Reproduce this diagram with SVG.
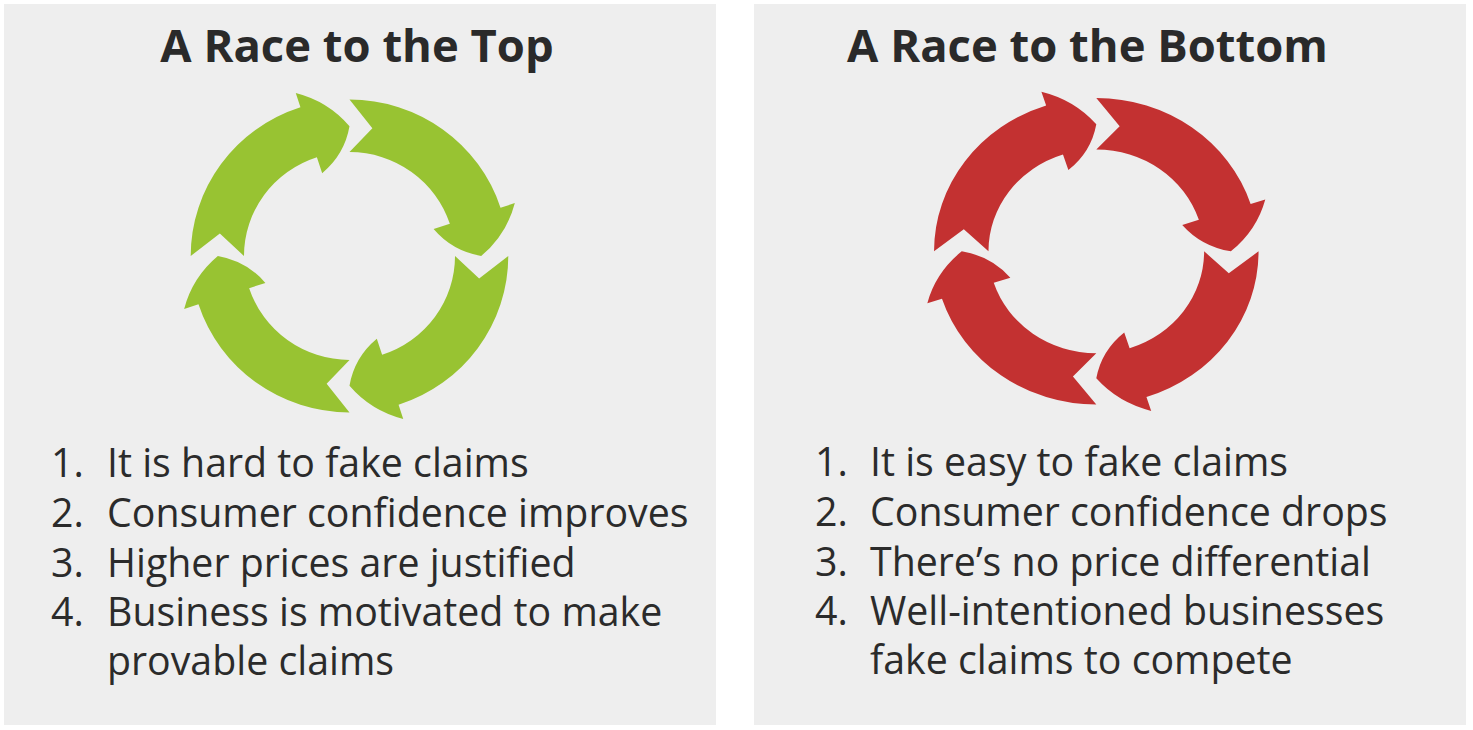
<svg xmlns="http://www.w3.org/2000/svg" xmlns:xlink="http://www.w3.org/1999/xlink" width="1473" height="730" viewBox="0 0 1473 730">
<style>
.panel{fill:#eeeeee}
.title{font-family:"Open Sans","Noto Sans","Liberation Sans",sans-serif;font-weight:700;font-size:45.4px;fill:#2a2a2a;text-anchor:middle}
.item{font-family:"Open Sans","Noto Sans","Liberation Sans",sans-serif;font-size:39.3px;fill:#2b2b2b}
.green{fill:#98c332}
.red{fill:#c33131}
</style>
<defs>
<path id="arc-arrow" d="M -158 0 A 158 158 0 0 1 -48.83 -150.27 L -53.46 -164.53 Q -21.42 -156.24 0 -131 Q -4.93 -102.37 -27.19 -83.69 L -32.45 -99.86 A 105 105 0 0 0 -105 0 L -129.01 -22.75 Z"/>
</defs>
<rect class="panel" x="4" y="4" width="712" height="721"/>
<rect class="panel" x="754" y="4" width="712" height="721"/>

<g id="top-panel">
<text class="title" x="357" y="62">A Race to the Top</text>
<g id="top-cycle" class="green" transform="translate(349.5 256) scale(1.005 0.99)">
<use xlink:href="#arc-arrow"/>
<use xlink:href="#arc-arrow" transform="rotate(90)"/>
<use xlink:href="#arc-arrow" transform="rotate(180)"/>
<use xlink:href="#arc-arrow" transform="rotate(270)"/>
</g>
<g id="top-list" class="item">
<text x="51" y="477">1.</text><text x="107" y="477">It is hard to fake claims</text>
<text x="51" y="527">2.</text><text x="107" y="527">Consumer confidence improves</text>
<text x="51" y="577">3.</text><text x="107" y="577">Higher prices are justified</text>
<text x="51" y="626">4.</text><text x="107" y="626">Business is motivated to make</text>
<text x="107" y="675">provable claims</text>
</g>
</g>

<g id="bottom-panel">
<text class="title" x="1087.5" y="62">A Race to the Bottom</text>
<g id="bottom-cycle" class="red" transform="translate(1096.3 251.3) scale(1.027 0.97)">
<use xlink:href="#arc-arrow"/>
<use xlink:href="#arc-arrow" transform="rotate(90)"/>
<use xlink:href="#arc-arrow" transform="rotate(180)"/>
<use xlink:href="#arc-arrow" transform="rotate(270)"/>
</g>
<g id="bottom-list" class="item">
<text x="815" y="476">1.</text><text x="870" y="476">It is easy to fake claims</text>
<text x="815" y="526">2.</text><text x="870" y="526">Consumer confidence drops</text>
<text x="815" y="576">3.</text><text x="870" y="576">There’s no price differential</text>
<text x="815" y="625">4.</text><text x="870" y="625">Well-intentioned businesses</text>
<text x="870" y="674">fake claims to compete</text>
</g>
</g>
</svg>
